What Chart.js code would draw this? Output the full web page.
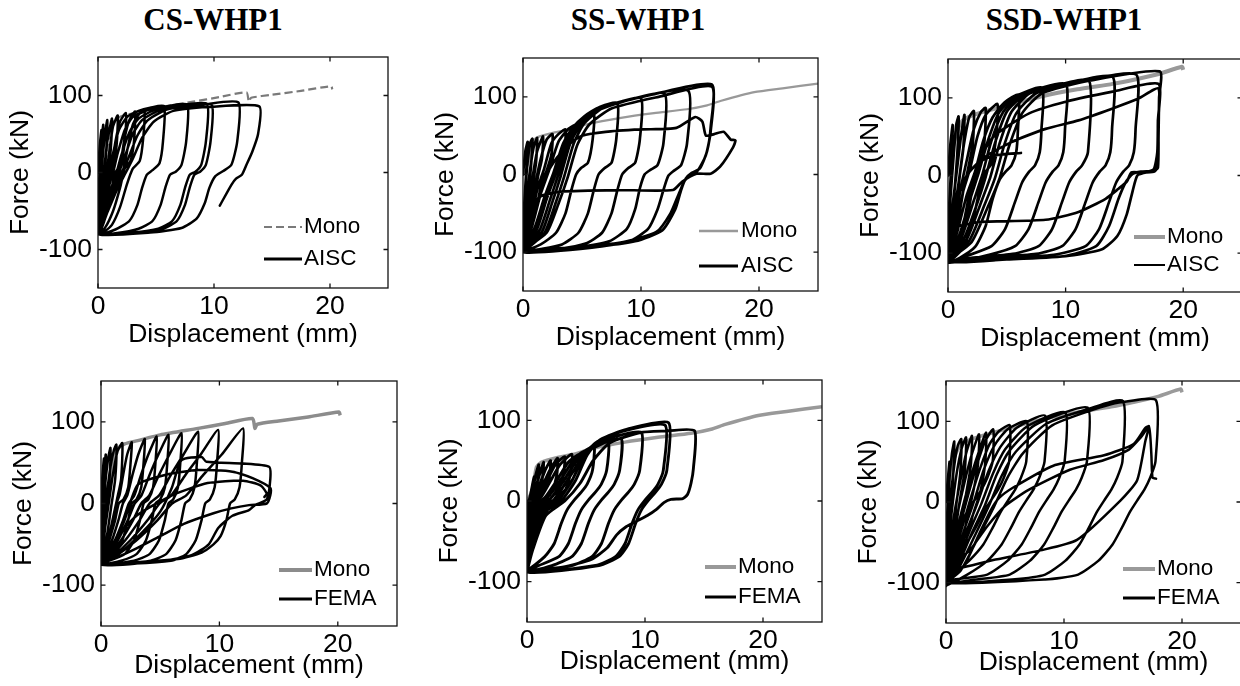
<!DOCTYPE html>
<html>
<head>
<meta charset="utf-8">
<script src="https://cdn.jsdelivr.net/npm/chart.js@4.4.1/dist/chart.umd.min.js"></script>
<style>
  body { margin: 0; width: 1240px; height: 686px; overflow: hidden; position: relative; background: #fff; }
  canvas { position: absolute; }
  .ttl { position: absolute; width: 300px; text-align: center; font: bold 31px "Liberation Serif", "Times New Roman", serif; line-height: 36px; color: #000; }
</style>
</head>
<body>
<div class="ttl" id="t1" style="left:63px;top:2px"></div>
<div class="ttl" id="t2" style="left:488px;top:2px"></div>
<div class="ttl" id="t3" style="left:914px;top:2px"></div>
<canvas id="p1" width="389" height="298" style="left:3px;top:53px"></canvas>
<canvas id="p2" width="394" height="300" style="left:428px;top:54px"></canvas>
<canvas id="p3" width="393" height="300" style="left:853px;top:55px"></canvas>
<canvas id="p4" width="395" height="305" style="left:6px;top:377px"></canvas>
<canvas id="p5" width="394" height="302" style="left:432px;top:376px"></canvas>
<canvas id="p6" width="394" height="302" style="left:851px;top:377px"></canvas>
<script>
// axis ticks and panel titles
const xTicks = [0, 10, 20];
const yTicks = [-100, 0, 100];
const specimens = ['CS-WHP1', 'SS-WHP1', 'SSD-WHP1'];

// monotonic tests, [displacement mm, force kN]
const csMono = [[0,0],[0.3,3],[0.6,10],[0.8,30],[1.0,50],[1.3,66],[2,73],[3.1,77],[5,84],[8.2,92],[10.5,98],[12.8,104],[13.0,92],[13.2,97],[15,101],[17.5,106],[20.1,112],[20.2,108]];
const ssMono = [[0,0],[0.2,5],[0.5,17],[0.8,42],[1.2,48],[2.6,54],[4,58],[5.5,65],[8.3,73],[11.1,79],[13.9,84],[15.6,89],[16.8,95],[19.6,106],[22,111],[25,117]];
const ssdMono = [[0,0],[0.3,28],[0.7,55],[1.2,70],[2,77],[3,82],[5,90],[8,102],[11,111],[14,118],[16,124],[18,131],[19.9,140],[20,136]];

// cyclic tests, AISC protocol
const csAisc = [
  [0,0],[0.15,35],[0.3,55],[0.25,20],[0.1,-30],[0,-65],
  [0.05,-30],[0.2,20],[0.45,62],[0.4,25],[0.2,-25],[0.05,-60],[0,-76],
  [0.1,-40],[0.35,10],[0.6,50],[0.8,68],[0.7,25],[0.5,-10],[0.25,-50],[0.05,-74],[0,-78],
  [0.2,-45],[0.5,0],[0.8,40],[1.2,70],[1.1,30],[0.9,5],[0.6,-30],[0.3,-62],[0,-79],
  [0.3,-50],[0.7,-5],[1.0,30],[1.3,60],[1.7,74],[1.6,35],[1.35,10],[1.0,-15],[0.6,-48],[0.25,-70],[0,-80],
  [0.4,-55],[0.9,-15],[1.2,10],[1.5,40],[1.9,66],[2.4,77],[2.3,40],[2.0,12],[1.6,2],[1.2,-25],[0.7,-55],[0.3,-73],[0,-80],
  [0.5,-58],[1.1,-25],[1.5,0],[1.9,10],[2.3,45],[2.7,68],[3.2,79],[3.1,40],[2.8,15],[2.3,5],[1.9,-20],[1.3,-50],[0.6,-72],[0,-80],
  [0.6,-60],[1.3,-30],[1.8,-5],[2.2,5],[2.6,35],[3.0,62],[3.5,75],[4.0,82],[3.9,45],[3.6,15],[3.0,5],[2.5,-15],[1.9,-45],[1.2,-68],[0.5,-77],[0,-80],
  [0.3,-55],[0.7,-20],[1.0,0],[1.3,25],[1.8,55],[2.5,72],[3.5,80],[4.5,84],[5.7,86],[5.6,40],[5.3,12],[4.7,3],[4.2,-3],[3.8,-20],[3.4,-42],[2.7,-63],[1.5,-74],[0,-80],
  [0.4,-55],[0.9,-20],[1.3,0],[1.7,25],[2.3,55],[3.0,72],[4.5,82],[6,86],[7.7,88],[7.6,40],[7.2,10],[6.7,1],[6.2,-3],[5.8,-20],[5.4,-42],[4.7,-63],[3.5,-73],[1.5,-79],[0,-80],
  [0.5,-55],[1.1,-22],[1.6,0],[2.0,22],[2.7,52],[3.5,70],[5,82],[7,87],[9.4,89],[9.3,40],[8.9,10],[8.4,1],[7.9,-3],[7.5,-20],[7.1,-42],[6.4,-63],[5.2,-73],[3,-78],[0,-80],
  [0.6,-55],[1.3,-22],[1.8,0],[2.3,20],[3.0,50],[3.8,68],[5.2,80],[7.5,86],[9.8,88],[9.7,40],[9.3,10],[8.8,1],[8.3,-3],[7.9,-20],[7.5,-42],[6.8,-63],[5.6,-73],[3.2,-78],[0,-80],
  [0.7,-55],[1.5,-22],[2.1,0],[2.6,18],[3.4,48],[4.3,68],[6,82],[9,88],[12.1,91],[12.0,40],[11.5,10],[10.8,2],[10.1,-5],[9.6,-20],[9.2,-40],[8.5,-60],[7.2,-72],[4.5,-78],[0,-80],
  [0.8,-52],[1.7,-20],[2.4,0],[3.0,18],[3.8,45],[4.8,66],[6.5,80],[9.5,85],[13.9,86],[13.8,50],[13.3,27],[12.8,10],[12.4,-3],[11.9,-8],[11.5,-16],[10.5,-43]
];

const ssAisc = [
  [0,0],[0.2,30],[0.4,42],[0.3,10],[0.1,-40],[0,-70],
  [0.15,-30],[0.35,10],[0.6,40],[0.8,46],[0.7,15],[0.45,-25],[0.2,-60],[0,-85],
  [0.25,-40],[0.55,0],[0.9,35],[1.2,47],[1.1,15],[0.8,-15],[0.45,-55],[0.15,-80],[0,-92],
  [0.35,-50],[0.8,-5],[1.2,30],[1.7,49],[1.6,20],[1.3,0],[0.9,-35],[0.4,-70],[0,-95],
  [0.5,-55],[1.0,-15],[1.5,20],[2.0,45],[2.5,52],[2.4,25],[2.0,5],[1.6,-10],[1.1,-45],[0.5,-78],[0,-97],
  [0.6,-60],[1.2,-20],[1.8,8],[2.4,40],[3.0,52],[3.6,58],[3.5,30],[3.1,10],[2.6,2],[2.1,-20],[1.5,-55],[0.7,-82],[0,-98],
  [0.8,-65],[1.5,-25],[2.2,5],[3.0,42],[3.8,58],[4.5,65],[5.2,74],[6.0,80],[5.9,45],[5.5,15],[4.9,8],[4.5,0],[4.1,-20],[3.6,-50],[2.8,-75],[1.5,-90],[0,-98],
  [1.0,-68],[1.8,-30],[2.6,3],[3.4,40],[4.2,60],[5.2,75],[6.5,87],[8.0,92],[7.9,45],[7.5,15],[6.9,8],[6.4,0],[6.0,-20],[5.5,-50],[4.7,-75],[3.3,-90],[1.5,-96],[0,-99],
  [1.2,-70],[2.0,-32],[2.8,2],[3.6,40],[4.4,60],[5.5,77],[7.5,90],[10,98],[9.9,45],[9.5,15],[8.9,8],[8.4,0],[8.0,-20],[7.5,-50],[6.7,-75],[5.3,-89],[3,-96],[0,-100],
  [1.4,-72],[2.3,-32],[3.0,0],[3.8,40],[4.6,60],[5.8,79],[8.5,94],[12,104],[11.9,40],[11.4,12],[10.8,6],[10.3,0],[9.9,-18],[9.5,-45],[8.8,-70],[7.3,-86],[4.5,-94],[0,-100],
  [1.6,-74],[2.5,-35],[3.2,-2],[4.0,40],[4.8,62],[6.2,82],[9.5,98],[14,108],[13.9,40],[13.4,12],[12.8,5],[12.3,-2],[11.9,-20],[11.4,-45],[10.6,-70],[9.0,-86],[6,-94],[0,-100],
  [1.8,-76],[2.8,-35],[3.5,-2],[4.3,40],[5.2,66],[7,88],[11,103],[16,116],[15.9,60],[15.6,30],[15.0,8],[14.3,2],[13.8,-5],[13.4,-20],[12.9,-45],[11.8,-72],[9.5,-86],[6,-93],[0,-98],
  [2.0,-75],[3.0,-38],[3.8,-3],[4.6,38],[5.6,64],[7.5,85],[11.5,100],[16,113],[15.9,55],[15.5,25],[14.8,5],[14.2,0],[13.7,-8],[13.2,-25],[12.5,-50],[11.3,-74],[8.5,-87],[4,-94],[0,-96],
  [0.5,-70],[1.2,-35],[2.0,0],[2.9,22],[4,40],[5,50],[7,55],[10,58],[13,60],[14.6,74],[15.2,68],[15.5,50],[16.2,52],[17,55],[17.6,45],[18,44],[17.8,35],[16.7,10],[15.9,1],[14.7,1],[13.5,-9],[12.7,-20],[8,-20],[3.2,-22],[1.5,-28],[0.5,-45],[0,-60]
];

const ssdAisc = [
  [0,0],[0.2,40],[0.4,65],[0.3,20],[0.1,-40],[0,-80],
  [0.2,-30],[0.45,20],[0.7,65],[0.9,76],[0.8,30],[0.5,-30],[0.2,-80],[0,-100],
  [0.3,-50],[0.7,0],[1.1,50],[1.4,78],[1.3,35],[1.0,0],[0.6,-55],[0.2,-95],[0,-106],
  [0.4,-60],[0.9,-10],[1.3,35],[1.8,75],[2.2,83],[2.1,40],[1.7,8],[1.3,-20],[0.8,-65],[0.3,-98],[0,-108],
  [0.5,-65],[1.1,-15],[1.6,20],[2.2,60],[2.8,82],[3.2,87],[3.1,45],[2.7,10],[2.2,0],[1.8,-25],[1.2,-70],[0.5,-100],[0,-110],
  [0.6,-70],[1.3,-20],[1.9,10],[2.5,50],[3.2,78],[4.2,92],[4.1,50],[3.7,15],[3.1,3],[2.6,-25],[2.0,-65],[1.2,-95],[0,-111],
  [0.8,-72],[1.6,-25],[2.3,5],[3.0,45],[3.8,75],[4.8,94],[6,104],[5.95,60],[5.8,30],[5.4,13],[4.9,5],[4.4,-5],[3.8,-30],[3.2,-65],[2.3,-92],[1.0,-106],[0,-112],
  [1.0,-75],[1.9,-30],[2.6,3],[3.4,45],[4.3,80],[5.5,100],[8,113],[7.95,60],[7.8,30],[7.4,13],[6.9,5],[6.3,-9],[5.7,-34],[4.85,-69],[3.7,-91],[1.5,-104],[0,-112],
  [1.2,-78],[2.2,-32],[2.9,0],[3.7,45],[4.7,82],[6,102],[10,118],[9.95,60],[9.8,30],[9.4,13],[8.9,5],[8.3,-9],[7.7,-34],[6.85,-69],[5.7,-91],[3.5,-102],[0,-112],
  [1.4,-80],[2.5,-35],[3.2,-2],[4.0,42],[5.0,82],[6.5,104],[9,115],[12,122],[11.9,30],[11.4,13],[10.9,5],[10.3,-9],[9.7,-34],[8.85,-69],[7.7,-91],[5.5,-101],[2,-106],[0,-110],
  [1.6,-82],[2.8,-35],[3.6,-2],[4.4,42],[5.4,82],[7,106],[10,118],[14,127],[13.95,60],[13.8,30],[13.4,13],[12.9,5],[12.3,-9],[11.7,-34],[10.85,-69],[9.7,-91],[7.5,-101],[3,-106],[0,-110],
  [1.8,-84],[3.1,-38],[4.0,-3],[4.8,40],[5.8,80],[7.5,106],[11,120],[16,130],[15.95,60],[15.8,30],[15.4,13],[14.9,5],[14.3,-9],[13.7,-34],[12.85,-69],[11.7,-91],[9,-102],[4,-107],[0,-110],
  [2.0,-86],[3.4,-40],[4.4,-3],[5.2,38],[6.3,80],[8,106],[12,122],[18,134],[17.95,100],[17.9,50],[17.85,10],[17.5,6],[16.4,5],[15.7,2],[15.1,-9],[14.5,-30],[13.7,-65],[12.6,-91],[9.8,-104],[5,-108],[0,-110],
  [1.0,-88],[1.8,-40],[2.3,0],[3.0,30],[4.0,52],[6.9,80],[10,95],[14,108],[17.9,118],[17.85,70],[17.8,30],[17.5,8],[16.8,4],[16.1,0],[15.7,-20],[15.2,-50],[14.4,-78],[13.1,-95],[10,-104],[5,-108],[0,-110],
  [1.2,-70],[2.0,-20],[2.6,17],[5.4,43],[8.3,60],[11.1,71],[13.95,86],[16.2,99],[17.9,112],[17.85,60],[17.8,10],[17.5,5],[16.3,4],[15.6,4],[15.2,-8],[14.5,-17],[13.4,-30],[11.1,-47],[8.3,-57],[2.6,-60],[0,-66],
  [0.8,-30],[1.6,0],[2.6,17],[4.0,26],[6.2,29]
];

// cyclic tests, FEMA protocol
const csFema = [
  [0,0],[0.1,30],[0.25,55],[0.2,20],[0.05,-30],[0,-60],
  [0.05,-20],[0.2,25],[0.4,60],[0.35,20],[0.15,-30],[0.03,-65],[0,-72],
  [0.1,-35],[0.3,15],[0.6,55],[0.8,68],[0.7,25],[0.45,-15],[0.2,-50],[0.03,-72],[0,-74],
  [0.15,-40],[0.45,5],[0.8,45],[1.1,66],[1.3,72],[1.2,30],[0.9,0],[0.55,-35],[0.2,-62],[0,-75],
  [0.2,-45],[0.6,-5],[1.0,35],[1.4,64],[1.8,74],[1.7,30],[1.35,5],[0.9,-25],[0.4,-58],[0,-75],
  [0.26,-65],[0.65,-45],[1.04,-20],[1.3,0],[1.56,10],[1.87,35],[2.21,60],[2.6,75],[2.5,50],[2.3,20],[1.9,5],[1.5,0],[1.2,-20],[0.7,-45],[0.3,-65],[0,-75],
  [0.37,-65],[0.93,-45],[1.48,-20],[1.85,0],[2.22,10],[2.66,35],[3.15,60],[3.7,79],[3.6,50],[3.4,20],[3.0,5],[2.6,0],[2.3,-20],[1.8,-45],[1.0,-62],[0,-74],
  [0.47,-65],[1.18,-45],[1.88,-20],[2.35,0],[2.82,10],[3.38,35],[4.0,60],[4.7,82],[4.6,50],[4.4,20],[4.0,5],[3.6,0],[3.3,-20],[2.8,-45],[2.0,-62],[0.7,-70],[0,-74],
  [0.57,-65],[1.43,-45],[2.28,-20],[2.85,0],[3.42,10],[4.1,35],[4.85,60],[5.7,84],[5.6,50],[5.4,20],[5.0,5],[4.6,0],[4.3,-20],[3.8,-45],[3.0,-62],[1.7,-70],[0,-75],
  [0.68,-65],[1.7,-45],[2.72,-20],[3.4,0],[4.08,10],[4.9,35],[5.78,60],[6.8,86],[6.7,50],[6.5,20],[6.1,5],[5.7,0],[5.4,-20],[4.9,-45],[4.1,-62],[2.8,-70],[0,-75],
  [0.82,-65],[2.05,-45],[3.28,-20],[4.1,0],[4.92,10],[5.9,35],[6.97,60],[8.2,88],[8.1,50],[7.9,20],[7.5,5],[7.1,0],[6.8,-20],[6.3,-45],[5.5,-62],[4.2,-70],[0,-75],
  [0.99,-65],[2.48,-45],[3.96,-20],[4.95,0],[5.94,10],[7.13,35],[8.42,60],[9.9,90],[9.8,50],[9.6,20],[9.2,5],[8.8,0],[8.5,-20],[8.0,-45],[7.2,-62],[5.9,-70],[0,-75],
  [1.2,-65],[3,-45],[4.8,-20],[6,0],[7.2,10],[8.64,35],[10.2,60],[12,92],[11.9,50],[11.7,20],[11.3,5],[10.9,0],[10.6,-20],[10.1,-40],[9.5,-50],[8.5,-60],[6.5,-68],[0,-74],
  [1.5,-62],[3.5,-35],[5.0,-10],[6.0,20],[6.8,53],[8.5,57],[8.9,51],[12,49],[14.2,45],[14.3,30],[14.0,5],[13.0,-2],[12.5,-8],[11.1,-15],[9.9,-30],[9.1,-50],[7.7,-63],[5.4,-70],[0,-75],
  [1.0,-55],[2.0,-20],[3.1,23],[5.4,35],[8.2,41],[11.1,39],[12.8,31],[14.3,19],[14.3,10],[14.0,0],[12.5,-2],[11,-6],[9.5,-12],[7,-25],[5,-40],[3,-55],[1.5,-65],[0,-72],
  [1.2,-45],[3,-15],[6,10],[9,25],[12,28],[13.5,22],[14,12],[13.8,8]
];

const ssFema = [
  [0,0],[0.05,-5],[0.3,8],[0.6,30],[0.5,10],[0.2,-20],[0.05,-55],[0,-70],
  [0.05,-30],[0.15,0],[0.4,8],[0.7,30],[1.0,45],[0.9,25],[0.6,8],[0.3,-5],[0.15,-35],[0.03,-70],[0,-80],
  [0.05,-35],[0.2,-2],[0.5,8],[0.9,25],[1.4,48],[1.3,28],[1.0,12],[0.6,3],[0.3,-15],[0.1,-50],[0,-82],
  [0.06,-40],[0.25,-3],[0.6,7],[1.1,22],[1.6,40],[2.0,50],[1.9,30],[1.5,12],[1.0,4],[0.5,-12],[0.15,-50],[0,-84],
  [0.08,-40],[0.3,-3],[0.8,6],[1.4,22],[2.0,40],[2.6,53],[2.5,30],[2.1,12],[1.6,4],[1.0,-8],[0.4,-35],[0.1,-70],[0,-85],
  [0.1,-45],[0.35,-4],[1.0,6],[1.7,25],[2.4,45],[3.2,55],[3.1,35],[2.7,15],[2.1,5],[1.5,-5],[0.8,-30],[0.3,-62],[0,-86],
  [0.12,-45],[0.4,-5],[1.2,5],[2.0,25],[2.8,45],[3.8,58],[3.7,35],[3.3,15],[2.7,6],[2.0,-4],[1.2,-28],[0.5,-58],[0.1,-80],[0,-86],
  [0.15,-50],[0.5,-8],[1.5,4],[2.5,25],[3.5,48],[4.3,57],[5.0,62],[5.7,69],[5.55,38],[5.1,21],[4.6,11],[4.0,1],[3.4,-11],[2.9,-28],[2.3,-53],[1.5,-69],[0,-85],
  [0.2,-50],[0.6,-8],[1.7,4],[2.8,25],[3.8,48],[4.6,60],[5.8,67],[6.9,73],[6.75,38],[6.3,21],[5.8,11],[5.2,1],[4.6,-11],[4.1,-28],[3.5,-53],[2.7,-69],[1,-80],[0,-86],
  [0.25,-55],[0.8,-10],[2.0,3],[3.1,25],[4.1,48],[5.0,63],[6.5,72],[8.0,77],[7.85,38],[7.4,21],[6.9,11],[6.3,1],[5.7,-11],[5.2,-28],[4.6,-53],[3.8,-69],[2.1,-80],[0,-86],
  [0.3,-55],[1.0,-12],[2.3,2],[3.4,25],[4.5,50],[5.5,68],[7.5,80],[9.7,85],[9.55,38],[9.1,21],[8.6,11],[8.0,1],[7.4,-11],[6.9,-28],[6.3,-53],[5.5,-69],[3.8,-80],[0,-87],
  [0.35,-58],[1.2,-14],[2.6,0],[3.8,25],[4.8,55],[5.8,72],[8,86],[11.7,94],[11.55,38],[11.1,21],[10.6,11],[10.0,1],[9.4,-11],[8.9,-28],[8.3,-53],[7.5,-69],[5.8,-80],[0,-88],
  [0.4,-60],[1.4,-15],[2.9,0],[4.1,25],[5.1,57],[6.2,76],[8.5,89],[12,97],[11.85,38],[11.4,21],[10.9,11],[10.3,1],[9.7,-11],[9.2,-28],[8.6,-53],[7.8,-69],[6.1,-80],[0,-88],
  [0.5,-60],[1.6,-18],[3.2,0],[4.5,22],[5.6,50],[7,72],[9.7,85],[12,87],[14.2,87],[14.1,40],[13.9,22],[13.6,8],[13.2,3],[12.2,2],[11.6,-2],[11.0,-10],[10.2,-18],[9.3,-25],[8.4,-32],[7.6,-42],[6.8,-58],[5.5,-72],[3,-82],[0,-86]
];

const ssdFema = [
  [0,0],[0.1,20],[0.3,50],[0.25,15],[0.08,-40],[0,-70],
  [0.05,-30],[0.25,20],[0.5,60],[0.7,75],[0.6,30],[0.35,-20],[0.1,-70],[0,-90],
  [0.1,-50],[0.35,0],[0.7,45],[1.0,70],[1.3,78],[1.2,35],[0.9,0],[0.5,-50],[0.15,-88],[0,-98],
  [0.15,-60],[0.5,-10],[0.9,35],[1.3,65],[1.7,80],[1.6,40],[1.2,5],[0.7,-45],[0.25,-85],[0,-100],
  [0.2,-65],[0.7,-15],[1.2,25],[1.7,60],[2.2,82],[2.1,45],[1.7,10],[1.2,-30],[0.6,-75],[0.1,-98],[0,-102],
  [0.3,-70],[0.9,-20],[1.5,20],[2.1,55],[2.8,84],[2.7,45],[2.3,12],[1.8,-20],[1.1,-65],[0.3,-95],[0,-103],
  [0.35,-72],[1.1,-25],[1.8,15],[2.5,50],[3.4,86],[3.3,45],[2.9,12],[2.3,-15],[1.5,-58],[0.6,-90],[0,-104],
  [0.4,-72],[1.2,-28],[1.9,10],[2.6,45],[3.3,75],[4.0,90],[3.95,50],[3.5,30],[3.0,15],[2.5,4],[1.8,-12],[1.1,-32],[0.3,-70],[0,-102],
  [0.5,-74],[1.4,-30],[2.1,5],[2.9,42],[3.7,72],[4.5,88],[5.4,95],[5.35,50],[4.9,30],[4.4,15],[3.9,4],[3.2,-12],[2.5,-32],[1.7,-53],[0.5,-85],[0,-103],
  [0.6,-76],[1.6,-32],[2.4,2],[3.2,40],[4.1,70],[5.2,90],[6.85,100],[6.8,50],[6.35,30],[5.85,15],[5.35,4],[4.65,-12],[3.95,-32],[3.15,-53],[1.95,-73],[0.3,-95],[0,-104],
  [0.7,-78],[1.8,-34],[2.7,0],[3.6,38],[4.6,68],[6,92],[8.4,107],[8.35,50],[7.9,30],[7.4,15],[6.9,4],[6.2,-12],[5.5,-32],[4.7,-53],[3.5,-73],[1.8,-90],[0,-103],
  [0.8,-80],[2.0,-36],[3.0,-2],[4.0,36],[5.0,65],[6.8,93],[10.1,111],[10.05,50],[9.6,30],[9.1,15],[8.6,4],[7.9,-12],[7.2,-32],[6.4,-53],[5.2,-73],[3.5,-90],[0.7,-96],[0,-100],
  [0.9,-82],[2.2,-38],[3.3,-4],[4.3,34],[5.4,64],[7.5,95],[12,117],[11.95,51],[11.5,30],[11.0,15],[10.5,4],[9.8,-12],[9.1,-32],[8.3,-53],[7.1,-73],[5.4,-90],[2.6,-96],[0,-100],
  [1.0,-84],[2.5,-40],[3.6,-6],[4.7,32],[5.9,62],[8.5,97],[12,115],[15,125],[14.95,50],[14.5,30],[14.0,15],[13.5,4],[12.8,-12],[12.1,-32],[11.3,-53],[10.1,-73],[8.4,-90],[5.6,-96],[0,-100],
  [1.2,-86],[2.8,-42],[4.0,-8],[5.2,30],[6.5,60],[9,95],[13,117],[15,124],[17.8,126],[17.75,50],[17.3,30],[16.8,15],[16.3,4],[15.6,-12],[14.9,-32],[14.1,-53],[12.9,-73],[11.2,-90],[8.4,-96],[0,-100],
  [1.5,-80],[2.8,-40],[3.8,-10],[4.5,5],[5.7,18],[9.1,45],[13.4,58],[15.9,72],[16.9,92],[17.2,94],[16.9,76],[16.2,27],[14.8,2],[11.1,-47],[8,-60],[4,-72],[0,-85],
  [2,-60],[3.5,-30],[5,-5],[7,15],[10.5,40],[13.4,52],[15.5,65],[16.5,80],[17.2,93],[17.4,60],[17.5,30],[17.8,29]
];

const FONT = '"Liberation Sans", Arial, sans-serif';
const toXY = a => a.map(p => ({x: p[0], y: p[1]}));

// box with inward ticks on all four sides
const frameBox = {
  id: 'frameBox',
  afterDatasetsDraw(chart) {
    const {ctx, chartArea: a, scales: {x, y}} = chart;
    const tl = 4.5;
    ctx.save();
    ctx.strokeStyle = '#111';
    ctx.lineWidth = 1.3;
    ctx.strokeRect(a.left, a.top, a.right - a.left, a.bottom - a.top);
    ctx.beginPath();
    x.ticks.forEach(t => {
      const px = x.getPixelForValue(t.value);
      ctx.moveTo(px, a.top); ctx.lineTo(px, a.top + tl);
      ctx.moveTo(px, a.bottom); ctx.lineTo(px, a.bottom - tl);
    });
    y.ticks.forEach(t => {
      const py = y.getPixelForValue(t.value);
      ctx.moveTo(a.left, py); ctx.lineTo(a.left + tl, py);
      ctx.moveTo(a.right, py); ctx.lineTo(a.right - tl, py);
    });
    ctx.stroke();
    ctx.restore();
  }
};

// legend drawn inside the axes, lower right
const boxLegend = {
  id: 'boxLegend',
  afterDraw(chart, args, o) {
    const {ctx, chartArea: a} = chart;
    ctx.save();
    ctx.font = '22.5px ' + FONT;
    ctx.textBaseline = 'middle';
    ctx.fillStyle = '#000';
    o.order.forEach((di, i) => {
      const ds = chart.data.datasets[di];
      const yy = a.bottom + o.rows[i];
      ctx.beginPath();
      ctx.strokeStyle = ds.borderColor;
      ctx.lineWidth = o.widths[i];
      ctx.setLineDash(ds.borderDash || []);
      ctx.moveTo(a.right + o.x0, yy);
      ctx.lineTo(a.right + o.x1, yy);
      ctx.stroke();
      ctx.setLineDash([]);
      ctx.fillText(ds.label, a.right + o.tx, yy);
    });
    ctx.restore();
  }
};

function drawPanel(id, loops, loopName, mono, st) {
  new Chart(document.getElementById(id), {
    type: 'scatter',
    data: {
      datasets: [
        { label: loopName, data: toXY(loops), showLine: true, borderColor: '#000', borderWidth: st.lw,
          pointRadius: 0, tension: 0.2, borderJoinStyle: 'round', borderCapStyle: 'round' },
        { label: 'Mono', data: toXY(mono), showLine: true, borderColor: st.monoColor, borderWidth: st.monoW,
          borderDash: st.dash || [], pointRadius: 0, tension: 0.2, borderJoinStyle: 'round' }
      ]
    },
    options: {
      responsive: false,
      animation: false,
      events: [],
      layout: { padding: { left: 0, right: 4, top: 4, bottom: 0 } },
      plugins: {
        legend: { display: false },
        tooltip: { enabled: false },
        boxLegend: st.legend
      },
      scales: {
        x: {
          type: 'linear', min: 0, max: 25,
          afterBuildTicks: s => { s.ticks = xTicks.map(v => ({value: v})); },
          afterFit: s => { s.height = st.xh; },
          grid: { display: false, drawTicks: false },
          border: { display: false },
          ticks: { color: '#000', font: { family: FONT, size: 26.5 }, padding: 3, maxRotation: 0 },
          title: { display: true, text: 'Displacement (mm)', color: '#000', font: { family: FONT, size: 26.5 }, padding: 0 }
        },
        y: {
          type: 'linear', min: -150, max: 150,
          afterBuildTicks: s => { s.ticks = yTicks.map(v => ({value: v})); },
          // end labels sit well inside the range, so no overflow room is needed
          afterFit: s => { s.width = 95; s.paddingTop = 0; s.paddingBottom = 0; },
          grid: { display: false, drawTicks: false },
          border: { display: false },
          ticks: { color: '#000', font: { family: FONT, size: 26.5 }, padding: 6 },
          title: { display: true, text: 'Force (kN)', color: '#000', font: { family: FONT, size: 26.5 }, padding: { top: 2, bottom: 0 } }
        }
      }
    },
    plugins: [frameBox, boxLegend]
  });
}

document.getElementById('t1').textContent = specimens[0];
document.getElementById('t2').textContent = specimens[1];
document.getElementById('t3').textContent = specimens[2];

drawPanel('p1', csAisc, 'AISC', csMono, { lw: 2.5, monoColor: '#7a7a7a', monoW: 2.2, dash: [8, 4], xh: 63,
  legend: { order: [1, 0], x0: -124, x1: -86, tx: -84, rows: [-61, -29], widths: [2.2, 3] } });
drawPanel('p2', ssAisc, 'AISC', ssMono, { lw: 2.7, monoColor: '#999999', monoW: 2.2, xh: 63,
  legend: { order: [1, 0], x0: -119, x1: -80, tx: -77, rows: [-60, -25], widths: [2.5, 3.2] } });
drawPanel('p3', ssdAisc, 'AISC', ssdMono, { lw: 2.7, monoColor: '#999999', monoW: 4, xh: 63,
  legend: { order: [1, 0], x0: -108, x1: -77, tx: -75, rows: [-55, -27], widths: [4, 2] } });
drawPanel('p4', csFema, 'FEMA', csMono, { lw: 2.5, monoColor: '#8c8c8c', monoW: 3.5, xh: 56,
  legend: { order: [1, 0], x0: -118, x1: -85, tx: -83, rows: [-56, -27], widths: [4, 3] } });
drawPanel('p5', ssFema, 'FEMA', ssMono, { lw: 2.9, monoColor: '#999999', monoW: 3.5, xh: 56,
  legend: { order: [1, 0], x0: -117, x1: -86, tx: -84, rows: [-55, -25], widths: [4, 3] } });
drawPanel('p6', ssdFema, 'FEMA', ssdMono, { lw: 2.5, monoColor: '#9a9a9a', monoW: 3.5, xh: 56,
  legend: { order: [1, 0], x0: -118, x1: -86, tx: -84, rows: [-54, -25], widths: [4, 3] } });
</script>
</body>
</html>
